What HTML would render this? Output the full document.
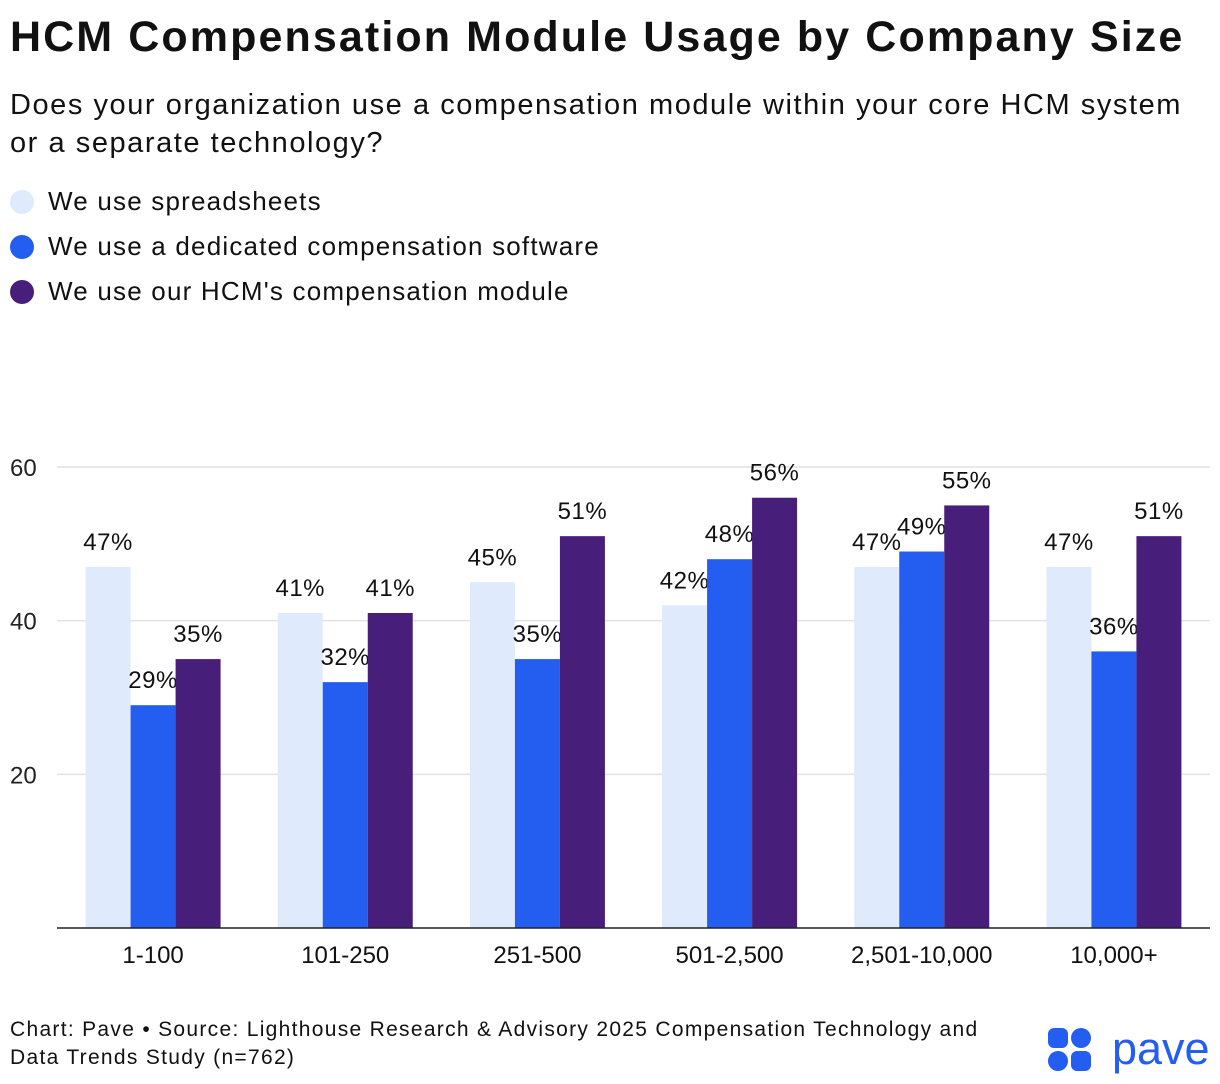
<!DOCTYPE html>
<html><head><meta charset="utf-8"><style>
body{margin:0;width:1220px;height:1084px;background:#fff;font-family:"Liberation Sans",sans-serif;color:#111;position:relative;overflow:hidden}
.t{position:absolute;left:10px;top:13px;font-size:43px;font-weight:bold;letter-spacing:2.1px;white-space:nowrap}
.s{position:absolute;left:10px;top:86px;font-size:29px;line-height:38px;width:1210px;letter-spacing:1.55px;white-space:nowrap}
.lg{position:absolute;left:10px;font-size:26px;letter-spacing:1.2px;display:flex;align-items:center}
.lg i{display:inline-block;width:24px;height:24px;border-radius:50%;margin-right:14px}
.f{position:absolute;left:10px;top:1016px;font-size:21px;letter-spacing:1.3px;line-height:28px}
</style></head><body>
<div class="t">HCM Compensation Module Usage by Company Size</div>
<div class="s">Does your organization use a compensation module within your core HCM system<br>or a separate technology?</div>
<div class="lg" style="top:186px"><i style="background:#dfeafc"></i>We use spreadsheets</div>
<div class="lg" style="top:231px"><i style="background:#245ef0"></i>We use a dedicated compensation software</div>
<div class="lg" style="top:276px"><i style="background:#471f7a"></i>We use our HCM's compensation module</div>
<svg id="c" width="1220" height="1084" style="position:absolute;left:0;top:0"></svg>
<div class="f">Chart: Pave • Source: Lighthouse Research &amp; Advisory 2025 Compensation Technology and<br>Data Trends Study (n=762)</div>
<svg style="position:absolute;left:1046px;top:1026px" width="174" height="48">
<rect x="2" y="2" width="20" height="20" rx="6" fill="#245ef0"/><rect x="25" y="2" width="20" height="20" rx="10" fill="#245ef0"/>
<rect x="2" y="25" width="20" height="20" rx="10" fill="#245ef0"/><rect x="25" y="25" width="20" height="20" rx="6" fill="#245ef0"/>
<text x="66" y="38" font-family="Liberation Sans,sans-serif" font-size="45" fill="#245ef0">pave</text></svg>
<script>
const categories=["1-100","101-250","251-500","501-2,500","2,501-10,000","10,000+"];
const spreadsheets=[47,41,45,42,47,47];
const dedicated=[29,32,35,48,49,36];
const hcm=[35,41,51,56,55,51];
const ticks=[20,40,60];
const series=[spreadsheets,dedicated,hcm];
const colors=["#dfeafc","#245ef0","#471f7a"];
const names=["spreadsheets","dedicated","hcm"];
const svg=document.getElementById('c');const NS="http://www.w3.org/2000/svg";
const x0=57,x1=1210,y0=928,sc=(928-467)/60;
const y=v=>y0-v*sc;const band=(x1-x0)/categories.length;const bw=45;
function mk(t,a,txt){const e=document.createElementNS(NS,t);for(const k in a)e.setAttribute(k,a[k]);if(txt!==undefined)e.textContent=txt;svg.appendChild(e);return e;}
ticks.forEach(t=>{const g=mk('line',{x1:x0,x2:x1,y1:y(t),y2:y(t),stroke:'#e2e2e2','stroke-width':1.5});


const l=mk('text',{x:10,y:y(t)+9,'font-size':24,fill:'#222','font-family':'Liberation Sans,sans-serif'},t);

});
categories.forEach((c,i)=>{const cx=x0+band*(i+0.5);
series.forEach((s,j)=>{const bx=cx-1.5*bw+j*bw;
const r=mk('rect',{x:bx,y:y(s[i]),width:bw,height:s[i]*sc,fill:colors[j]});


const t=mk('text',{x:bx+bw/2,y:y(s[i])-17,'text-anchor':'middle','font-size':24,'letter-spacing':0.5,fill:'#111','font-family':'Liberation Sans,sans-serif'},s[i]+'%');

});
const xl=mk('text',{x:cx,y:963,'text-anchor':'middle','font-size':24,fill:'#111','font-family':'Liberation Sans,sans-serif'},c);

});
const ax=mk('line',{x1:x0,x2:x1,y1:y0,y2:y0,stroke:'#222','stroke-width':1.5});


</script>
</body></html>
